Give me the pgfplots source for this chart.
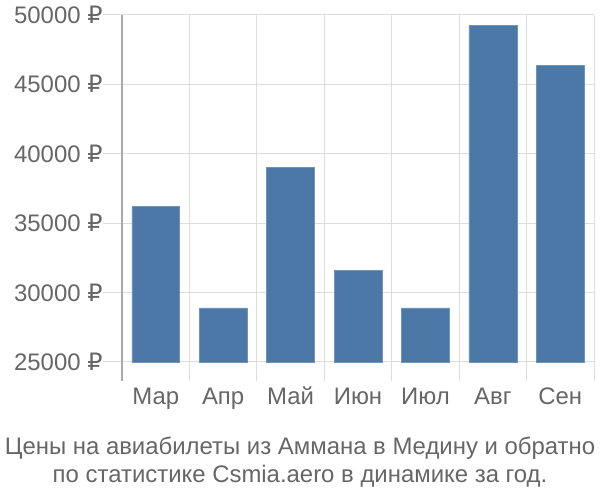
\documentclass[border=0pt]{standalone}
\usepackage{pgfplots}
\pgfplotsset{compat=1.18}
\usepackage{fontspec}
\setmainfont{Liberation Sans}
\newfontfamily\dejavu{DejaVu Sans}
\newcommand{\rub}{{\dejavu ₽}}
\definecolor{barc}{HTML}{4C78A8}
\definecolor{gridc}{HTML}{DDDDDD}
\definecolor{axc}{HTML}{AAAAAA}
\definecolor{txt}{HTML}{666666}
\begin{document}
\begin{tikzpicture}[x=1bp,y=1bp]
\useasboundingbox (0,0) rectangle (600,500);
\begin{axis}[
  at={(122bp,138bp)}, anchor=south west,
  scale only axis, width=472bp, height=347bp,
  xmin=-0.5, xmax=6.5, ymin=25000, ymax=50000,
  scaled y ticks=false,
  axis x line*=bottom, axis y line*=left,
  x axis line style={draw=none},
  y axis line style={draw=axc, line width=1.2pt, shorten <=-19bp},
  xtick={-0.5,0.5,1.5,2.5,3.5,4.5,5.5,6.5},
  xticklabels={},
  xmajorgrids,
  x tick style={draw=gridc, line width=1pt},
  extra x ticks={0,1,2,3,4,5,6},
  extra x tick labels={Мар,Апр,Май,Июн,Июл,Авг,Сен},
  extra x tick style={grid=none, major tick length=0pt, tick style={draw=none}},
  ytick={25000,30000,35000,40000,45000,50000},
  yticklabels={25000 \rub,30000 \rub,35000 \rub,40000 \rub,45000 \rub,50000 \rub},
  ymajorgrids, major grid style={draw=gridc, line width=1pt},
  y tick style={draw=gridc, line width=1pt},
  tick align=outside, major tick length=19bp,
  ticklabel style={font=\fontsize{24}{28}\selectfont, text=txt},
  yticklabel style={xshift=3bp},
  xticklabel style={anchor=base, yshift=-43bp},
  ybar, bar width=0.71, bar shift=0pt,
  clip=false,
]
\addplot[fill=barc, draw=barc!80!white] coordinates {
 (0,36200) (1,28900) (2,39000) (3,31600) (4,28900) (5,49250) (6,46350)
};
\end{axis}
\node[text=txt, font=\fontsize{24}{28}\selectfont, anchor=base] at (300,45) {Цены на авиабилеты из Аммана в Медину и обратно};
\node[text=txt, font=\fontsize{24}{28}\selectfont, anchor=base] at (300,17) {по статистике Csmia.aero в динамике за год.};
\end{tikzpicture}
\end{document}
